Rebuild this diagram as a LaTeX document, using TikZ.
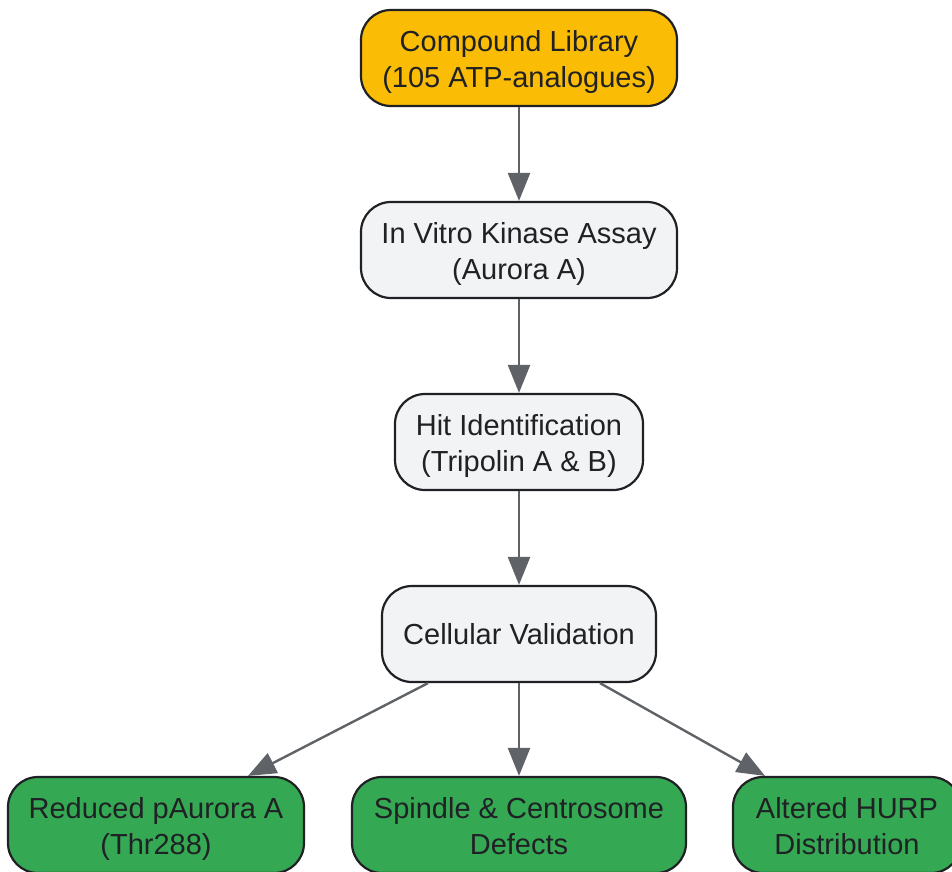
\documentclass[tikz,border=0pt]{standalone}
\usepackage{fontspec}
\setmainfont{Liberation Sans}
\usetikzlibrary{arrows.meta,calc}
\definecolor{orangefill}{HTML}{FBBC05}
\definecolor{grayfill}{HTML}{F1F3F4}
\definecolor{greenfill}{HTML}{34A853}
\definecolor{strokec}{HTML}{202124}
\definecolor{arrowc}{HTML}{5F6368}
\newcommand\toprule{\rule{0pt}{29pt}}
\newcommand\botrule{\rule[-6.1pt]{0pt}{0pt}}
\begin{document}
\begin{tikzpicture}[x=1pt,y=-1pt,
  box/.style={draw=strokec, line width=2.2pt, rounded corners=30pt,
    minimum height=96pt, align=center, inner sep=0pt,
    font=\fontsize{29}{36}\selectfont, text=strokec},
  startbox/.style={box, fill=orangefill},
  midbox/.style={box, fill=grayfill},
  endbox/.style={box, fill=greenfill},
  arr/.style={draw=arrowc, line width=2.4pt,
    -{Triangle[length=28pt,width=22pt]}, arrowc}]
\useasboundingbox (0,0) rectangle (952,871);
\node[startbox, minimum width=316pt] (cl) at (519,58) {\toprule Compound Library\\(105 ATP-analogues)\botrule};
\node[midbox, minimum width=316pt] (iv) at (519,250) {\toprule In Vitro Kinase Assay\\(Aurora A)\botrule};
\node[midbox, minimum width=248pt] (hit) at (519,442) {\toprule Hit Identification\\(Tripolin A \& B)\botrule};
\node[midbox, minimum width=274pt] (cv) at (519,634) {Cellular Validation};
\node[endbox, minimum width=296pt] (ra) at (156,825) {\toprule Reduced pAurora A\\(Thr288)\botrule};
\node[endbox, minimum width=334pt] (sp) at (519,825) {\toprule Spindle \& Centrosome\\Defects\botrule};
\node[endbox, minimum width=228pt] (al) at (847,825) {\toprule Altered HURP\\Distribution\botrule};
\draw[arr] (cl) -- (iv);
\draw[arr] (iv) -- (hit);
\draw[arr] (hit) -- (cv);
\draw[arr] (cv) -- (sp);
\draw[arr] ($(cv.south)+(-91,0)$) -- ($(ra.north)+(92,0)$);
\draw[arr] ($(cv.south)+(81,0)$) -- ($(al.north)+(-82,0)$);
\end{tikzpicture}
\end{document}
